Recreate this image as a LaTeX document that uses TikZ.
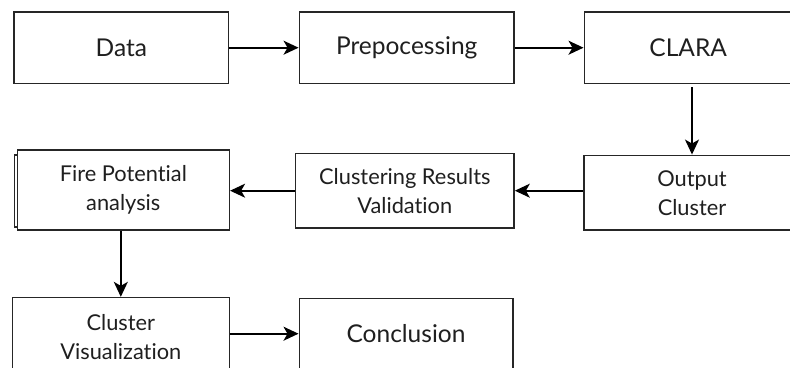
\documentclass[tikz,border=0pt]{standalone}
\usepackage{fontspec}
\setmainfont{Lato}[Ligatures={NoCommon}]
\usetikzlibrary{arrows.meta}
\begin{document}
\begin{tikzpicture}[x=1pt,y=-1pt,
  box/.style={draw=black!85, line width=1.6pt, fill=white, inner sep=0pt,
              align=center, text=black!88},
  bigtext/.style={font=\fontsize{24.5}{29}\selectfont},
  smalltext/.style={font=\fontsize{21.8}{29}\selectfont},
  flow/.style={draw=black, line width=1.6pt,
               -{Stealth[length=15pt,width=14pt,inset=4pt]}}]
\useasboundingbox (0,0) rectangle (790,367);
\clip (0,0) rectangle (790,367);

% top row
\node[box, bigtext, minimum width=214.5, minimum height=71.3] (data) at (121.3,47.7) {Data};
\node[box, bigtext, minimum width=214.7, minimum height=71.3] (prep) at (406.7,47.7) {Prepocessing};
\node[box, bigtext, minimum width=207.8, minimum height=71.3] (clara) at (688.2,47.7) {CLARA};

% middle row
\node[box, smalltext, minimum width=216, minimum height=74.7] (out) at (692,192.7) {Output\\Cluster};
\node[box, smalltext, minimum width=218.5, minimum height=74.7] (valid) at (404.8,190.7) {Clustering Results\\Validation};
\draw[draw=black!85, line width=1.2pt, fill=white] (14.8,155) rectangle (17.3,227);
\node[box, smalltext, minimum width=212, minimum height=80] (fire) at (123.3,190) {Fire Potential\\analysis};

% bottom row
\node[box, smalltext, minimum width=217, minimum height=79.3] (vis) at (120.8,337.3) {Cluster\\Visualization};
\node[box, bigtext, minimum width=213.4, minimum height=70.7] (conc) at (406,333.7) {Conclusion};

% connectors
\draw[flow] (data) -- (prep);
\draw[flow] (prep) -- (clara);
\draw[flow, shorten <=3pt] (clara.south -| out.north) -- (out.north);
\draw[flow] (out.west |- valid.east) -- (valid.east);
\draw[flow] (valid.west) -- (valid.west -| fire.east);
\draw[flow] (fire.south -| vis.north) -- (vis.north);
\draw[flow] (vis.east |- conc.west) -- (conc.west);
\end{tikzpicture}
\end{document}
